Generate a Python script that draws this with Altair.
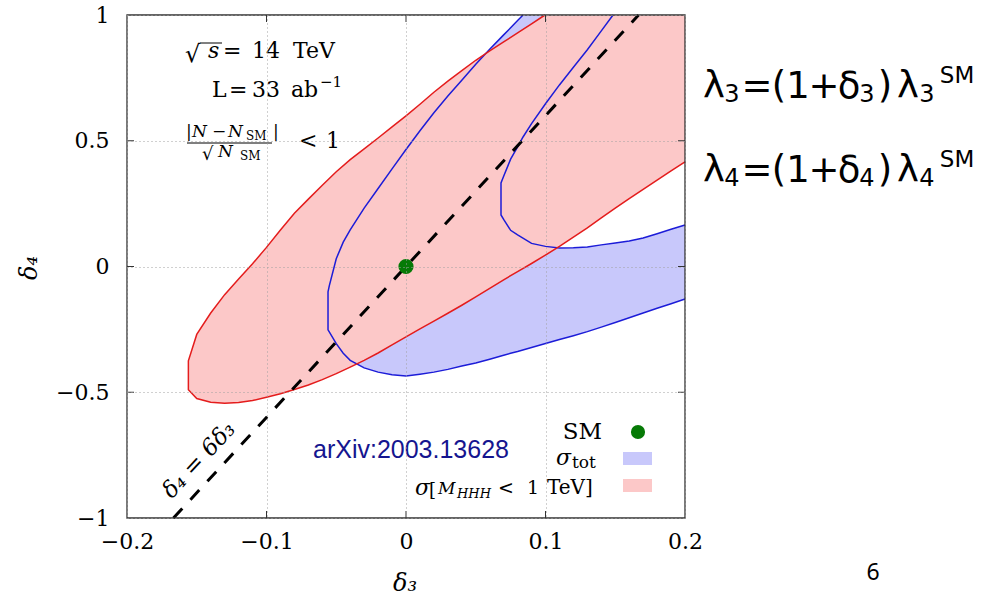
import altair as alt
import pandas as pd

# ---------------- data ----------------
# red band: sigma[M_HHH < 1 TeV]
red_x = [-0.156, -0.15, -0.14, -0.13, -0.12, -0.11, -0.10, -0.09, -0.08, -0.07, -0.06, -0.05,
         -0.04, -0.03, -0.02, -0.01, 0.00, 0.01, 0.02, 0.03, 0.04, 0.05, 0.06, 0.07, 0.08, 0.09,
         0.0996, 0.11, 0.12, 0.13, 0.14, 0.15, 0.16, 0.17, 0.18, 0.19, 0.20]
red_hi = [-0.375, -0.27, -0.185, -0.112, -0.050, 0.011, 0.076, 0.145, 0.212, 0.268, 0.323, 0.377,
          0.425, 0.468, 0.511, 0.555, 0.599, 0.645, 0.693, 0.737, 0.779, 0.820, 0.857, 0.893, 0.929, 0.965,
          1.0, 1.0, 1.0, 1.0, 1.0, 1.0, 1.0, 1.0, 1.0, 1.0, 1.0]
red_lo = [-0.49, -0.525, -0.540, -0.544, -0.541, -0.533, -0.520, -0.506, -0.489, -0.471, -0.450, -0.426,
          -0.400, -0.373, -0.344, -0.312, -0.280, -0.248, -0.217, -0.186, -0.154, -0.121, -0.087, -0.053, -0.020, 0.012,
          0.044, 0.080, 0.117, 0.154, 0.193, 0.232, 0.270, 0.307, 0.343, 0.380, 0.416]

# blue band: sigma_tot (outer curve minus inner curve), three pieces
b1_x = [-0.0559, -0.055, -0.05, -0.045, -0.04, -0.03, -0.02, -0.01, 0.0, 0.01, 0.02, 0.03, 0.04, 0.05, 0.06, 0.0681]
b1_lo = [-0.252, -0.260, -0.307, -0.345, -0.373, -0.403, -0.420, -0.430, -0.435, -0.428, -0.420, -0.409,
         -0.396, -0.384, -0.369, -0.356]
b1_hi = [-0.101, -0.077, 0.031, 0.097, 0.146, 0.232, 0.310, 0.388, 0.465, 0.540, 0.611, 0.678,
         0.741, 0.804, 0.864, 0.910]

b2_x = [0.0681, 0.07, 0.075, 0.08, 0.09, 0.10, 0.11, 0.12, 0.13, 0.14, 0.15, 0.16, 0.17, 0.18, 0.19, 0.20]
b2_lo = [-0.356, -0.353, -0.345, -0.338, -0.322, -0.306, -0.290, -0.275, -0.259, -0.241, -0.223, -0.204,
         -0.185, -0.166, -0.148, -0.129]
b2_hi = [0.205, 0.187, 0.144, 0.126, 0.092, 0.080, 0.074, 0.075, 0.078, 0.086, 0.093, 0.101,
         0.113, 0.130, 0.148, 0.165]

b3_x = [0.0681, 0.07, 0.075, 0.08, 0.0839, 0.09, 0.10, 0.11, 0.12, 0.13, 0.14, 0.1484]
b3_lo = [0.332, 0.359, 0.427, 0.476, 0.515, 0.568, 0.647, 0.722, 0.792, 0.862, 0.937, 1.0]
b3_hi = [0.910, 0.921, 0.949, 0.978, 1.0, 1.0, 1.0, 1.0, 1.0, 1.0, 1.0, 1.0]

# delta4 = 6 delta3 line
dash_x = [-0.1667, 0.1667]
dash_y = [-1.0, 1.0]

# SM point
sm_x = [0.0]
sm_y = [0.0]

x_ticks = [-0.2, -0.1, 0.0, 0.1, 0.2]
y_ticks = [-1.0, -0.5, 0.0, 0.5, 1.0]

# ---------------- layout ----------------
W, H = 558, 503
OX, OY = 127, 15
RED_FILL = "#fcc8c8"
BLUE_FILL = "#c8c8fb"
RED_LINE = "#e41c1c"
BLUE_LINE = "#1c1cd8"
GREEN = "#067a06"
SERIF = "DejaVu Serif"
SANS = "DejaVu Sans"

xscale = alt.Scale(domain=[-0.2, 0.2], nice=False, zero=False)
yscale = alt.Scale(domain=[-1, 1], nice=False, zero=False)
xaxis = alt.Axis(values=x_ticks, format=".1~f", title=None, grid=True, gridDash=[1, 3],
                 gridColor="#a0a0a0", ticks=False, tickSize=0, domain=False,
                 labelFont=SERIF, labelFontSize=22, labelColor="black", labelPadding=13,
                 labelFlush=False, labelOverlap=False, zindex=1)
yaxis = alt.Axis(values=y_ticks, format=".1~f", title=None, grid=True, gridDash=[1, 3],
                 gridColor="#a0a0a0", ticks=False, tickSize=0, domain=False,
                 labelFont=SERIF, labelFontSize=22, labelColor="black", labelPadding=18,
                 labelFlush=False, labelOverlap=False, zindex=1)


def X(f):
    return alt.X(f, scale=xscale, axis=xaxis)


def Y(f):
    return alt.Y(f, scale=yscale, axis=yaxis)


def area(xs, lo, hi, color):
    df = pd.DataFrame({"x": xs, "lo": lo, "hi": hi})
    return alt.Chart(df).mark_area(color=color, opacity=1).encode(
        x=X("x:Q"), y=Y("lo:Q"), y2="hi:Q")


def curve(xs, ys, color, width, dash=None):
    df = pd.DataFrame({"x": xs, "y": ys, "o": list(range(len(xs)))})
    kw = dict(color=color, strokeWidth=width)
    if dash:
        kw["strokeDash"] = dash
        kw["strokeCap"] = "butt"
    return alt.Chart(df).mark_line(**kw).encode(x=X("x:Q"), y=Y("y:Q"), order="o:Q")


# outlines built from the band arrays
red_up = [(x, y) for x, y in zip(red_x, red_hi) if x <= 0.0996]
red_outline = list(reversed(red_up)) + list(zip(red_x, red_lo))
outer_up = list(zip(b1_x, b1_hi)) + [(x, y) for x, y in zip(b3_x[1:], b3_hi[1:]) if x <= 0.0839]
outer_outline = list(reversed(outer_up)) + list(zip(b1_x, b1_lo)) + list(zip(b2_x[1:], b2_lo[1:]))
inner_outline = list(reversed(list(zip(b3_x, b3_lo)))) + list(zip(b2_x, b2_hi))

layers = [
    area(b1_x, b1_lo, b1_hi, BLUE_FILL),
    area(b2_x, b2_lo, b2_hi, BLUE_FILL),
    area(b3_x, b3_lo, b3_hi, BLUE_FILL),
    area(red_x, red_lo, red_hi, RED_FILL),
    curve([p[0] for p in outer_outline], [p[1] for p in outer_outline], BLUE_LINE, 1.5),
    curve([p[0] for p in inner_outline], [p[1] for p in inner_outline], BLUE_LINE, 1.5),
    curve([p[0] for p in red_outline], [p[1] for p in red_outline], RED_LINE, 1.5),
    curve(dash_x, dash_y, "black", 3, dash=[13, 12]),
    alt.Chart(pd.DataFrame({"x": sm_x, "y": sm_y})).mark_circle(size=230, color=GREEN, opacity=1).encode(
        x=X("x:Q"), y=Y("y:Q")),
]

# inward ticks on all four sides
inner_xt = pd.DataFrame({"x": x_ticks[1:-1]})
inner_yt = pd.DataFrame({"y": y_ticks[1:-1]})
layers += [
    alt.Chart(inner_xt).mark_rule(color="#333333").encode(x=X("x:Q"), y=alt.value(H), y2=alt.value(H - 7)),
    alt.Chart(inner_xt).mark_rule(color="#333333").encode(x=X("x:Q"), y=alt.value(0), y2=alt.value(7)),
    alt.Chart(inner_yt).mark_rule(color="#333333").encode(y=Y("y:Q"), x=alt.value(0), x2=alt.value(7)),
    alt.Chart(inner_yt).mark_rule(color="#333333").encode(y=Y("y:Q"), x=alt.value(W - 7), x2=alt.value(W)),
    alt.Chart(pd.DataFrame({"a": [0]})).mark_rect(fillOpacity=0, stroke="#333333", strokeWidth=1.3).encode(
        x=alt.value(0), x2=alt.value(W), y=alt.value(0), y2=alt.value(H)),
]


def texts(rows, font, style="normal", color="black", align="left", baseline="alphabetic", angle=0):
    df = pd.DataFrame(rows, columns=["t", "px", "py", "s"])
    df["px"] = df["px"] - OX
    df["py"] = df["py"] - OY
    return alt.Chart(df).mark_text(font=font, fontStyle=style, color=color, align=align,
                                   baseline=baseline, angle=angle).encode(
        x=alt.X("px:Q", scale=None, axis=None), y=alt.Y("py:Q", scale=None, axis=None),
        text="t:N", size=alt.Size("s:Q", scale=None, legend=None))


def hrule(x1, x2, y, color="black", w=1):
    return alt.Chart(pd.DataFrame({"a": [0]})).mark_rule(color=color, strokeWidth=w).encode(
        x=alt.value(x1 - OX), x2=alt.value(x2 - OX), y=alt.value(y - OY))


def box(x1, y1, x2, y2, color):
    return alt.Chart(pd.DataFrame({"a": [0]})).mark_rect(color=color, opacity=1).encode(
        x=alt.value(x1 - OX), x2=alt.value(x2 - OX), y=alt.value(y1 - OY), y2=alt.value(y2 - OY))


# in-plot annotations
layers += [
    texts([("√", 185, 62, 24), ("=", 223, 58, 22), ("14", 252, 58, 22), ("TeV", 293, 58, 22),
           ("L", 212, 97, 22), ("=", 229, 97, 22), ("33", 252, 97, 22), ("ab", 291, 97, 22),
           ("−1", 320, 87, 15),
           ("|", 186, 137, 17), ("−", 212, 137, 17), ("SM", 246, 140, 12), ("|", 273, 137, 17),
           ("√", 202, 160, 18), ("SM", 240, 160, 12), ("<", 299, 148, 22), ("1", 326, 148, 22)], SERIF),
    texts([("s", 208, 58, 22), ("N", 192, 137, 17), ("N", 228, 137, 17), ("N", 218, 157, 17)],
          SERIF, style="italic"),
    hrule(200, 222, 43),
    hrule(187, 272, 143),
    texts([("δ₄ = 6δ₃", 199, 460, 23)], SERIF, style="italic", align="center", baseline="middle", angle=313),
    texts([("arXiv:2003.13628", 313, 458, 25)], "Liberation Sans", color="#15158f"),
    # legend
    texts([("SM", 602, 439, 23)], SERIF, align="right"),
    texts([("tot", 572, 468, 17), ("[", 429, 496, 18), ("<", 498, 494, 19), ("1", 527, 494, 19),
           ("TeV]", 547, 494, 20)], SERIF),
    texts([("σ", 556, 465, 22), ("σ", 415, 495, 22), ("M", 438, 494, 17), ("HHH", 457, 498, 13)],
          SERIF, style="italic"),
    alt.Chart(pd.DataFrame({"a": [0]})).mark_circle(size=200, color=GREEN, opacity=1).encode(
        x=alt.value(638 - OX), y=alt.value(432 - OY)),
    box(623, 452, 652, 465, BLUE_FILL),
    box(623, 479, 652, 492, RED_FILL),
    # axis titles
    texts([("δ₃", 405, 591, 24)], SERIF, style="italic", align="center"),
    texts([("δ₄", 30, 268, 24)], SERIF, style="italic", align="center", baseline="middle", angle=270),
]

# slide text on the right
main_glyphs = [("λ", 714), ("=", 757), ("(", 779), ("1", 798), ("+", 824), ("δ", 849), (")", 885), ("λ", 908)]
sub_pos = [732, 867, 927]
for idx, base in ((3, 98), (4, 182)):
    rows = [(g, cx, base, 37) for g, cx in main_glyphs]
    rows += [(str(idx), cx, base + 4, 24) for cx in sub_pos]
    rows += [("SM", 957, base - 15, 23)]
    layers.append(texts(rows, SANS, align="center"))
layers.append(texts([("6", 873, 580, 23)], "Noto Sans", align="center"))

chart = alt.layer(*layers).properties(
    width=W, height=H, autosize="none",
    padding={"left": OX, "top": OY, "right": 983 - OX - W, "bottom": 598 - OY - H},
    background="white",
).configure_view(stroke=None)

chart.save("out.html", embed_options={"renderer": "svg", "actions": False})
